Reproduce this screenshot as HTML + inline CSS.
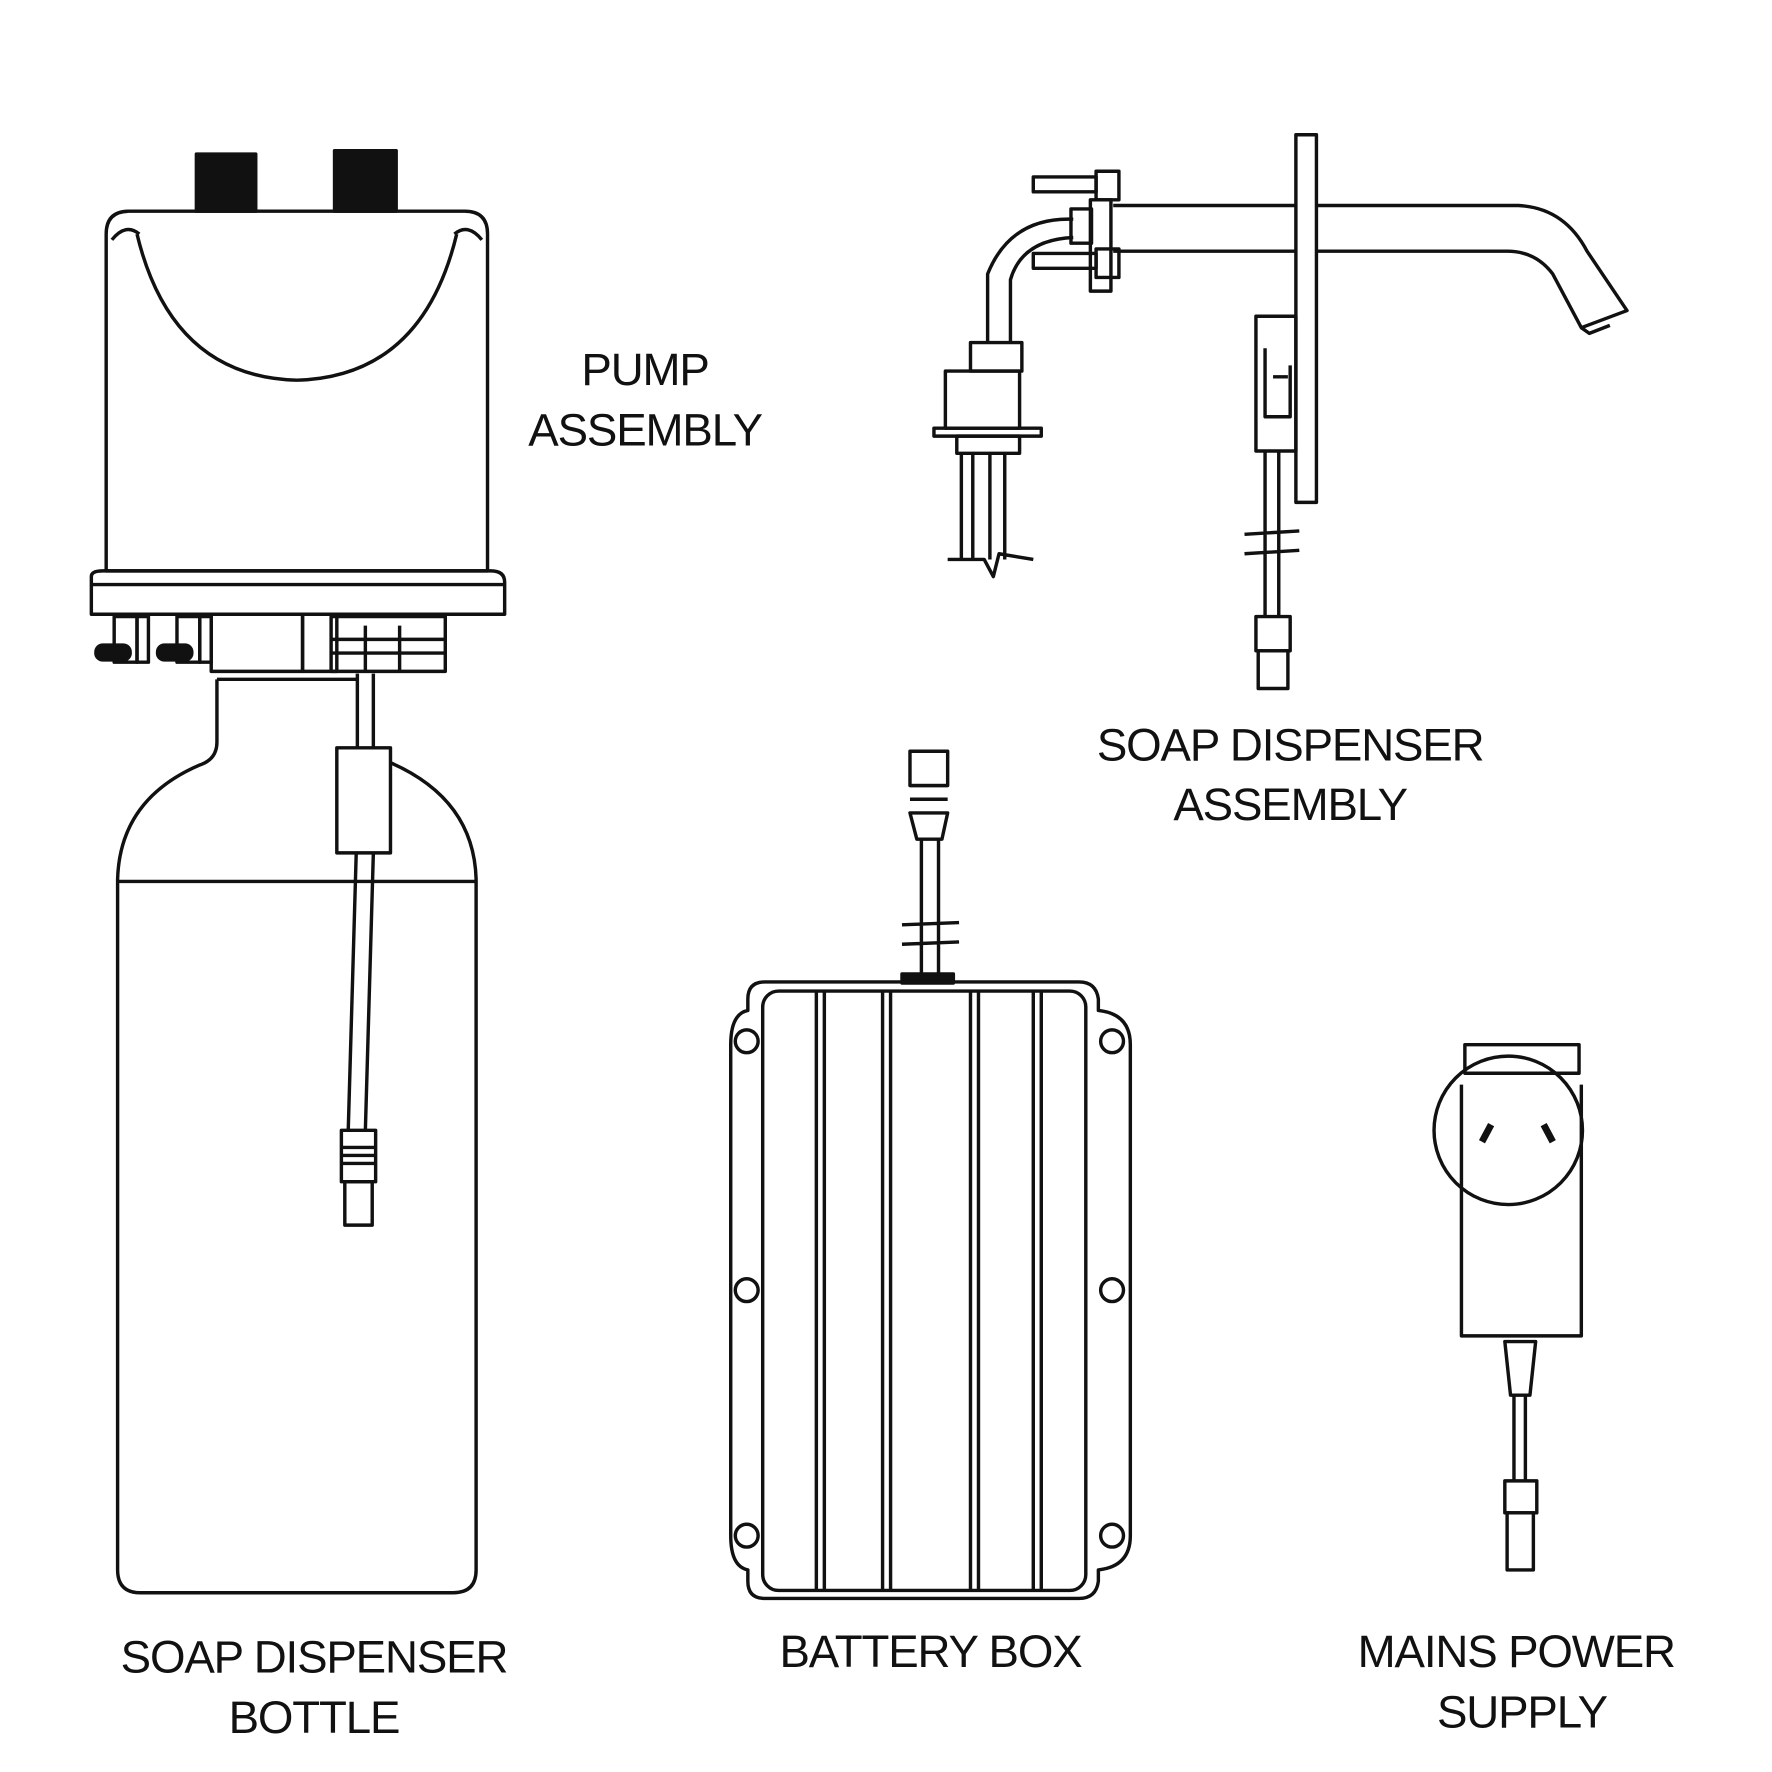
<!DOCTYPE html>
<html><head><style>html,body{margin:0;padding:0;background:#fff}svg{display:block}</style></head>
<body>
<svg width="1772" height="1772" viewBox="0 0 1552 1552" xmlns="http://www.w3.org/2000/svg">
<g fill="none" stroke="#111" stroke-width="3" stroke-linejoin="round">
<!-- PUMP -->
<rect x="172" y="135" width="52" height="50" fill="#111"/>
<rect x="293" y="132" width="54" height="53" fill="#111"/>
<path d="M93 205 Q93 185 113 185 L407 185 Q427 185 427 205 L427 500 L93 500 Z"/>
<path d="M120 205 Q150 330 260 333 Q370 330 400 205"/>
<path d="M98 210 Q110 195 122 205 M422 210 Q410 195 398 205"/>
<path d="M80 505 Q80 500 90 500 L430 500 Q442 500 442 510 L442 538 L80 538 Z"/>
<path d="M80 512 L442 512"/>
<rect x="185" y="538" width="80" height="50"/>
<rect x="265" y="538" width="30" height="50"/>
<rect x="290" y="540" width="100" height="48"/>
<path d="M290 560 L390 560 M290 572 L390 572 M320 548 L320 588 M350 548 L350 588"/>
<rect x="100" y="540" width="20" height="40"/><rect x="120" y="540" width="10" height="40"/>
<rect x="155" y="540" width="20" height="40"/><rect x="175" y="540" width="10" height="40"/>
<rect x="84" y="565" width="30" height="13" rx="6" fill="#111"/>
<rect x="138" y="565" width="30" height="13" rx="6" fill="#111"/>
<!-- BOTTLE -->
<path d="M190 595 L312 595"/>
<path d="M190 595 L190 650 Q190 665 175 670 Q105 700 103 770 L103 1375 Q103 1395 123 1395 L397 1395 Q417 1395 417 1375 L417 770 Q415 700 342 668"/>
<path d="M103 772 L417 772"/>
<path d="M313 590 L313 655 M327 590 L327 655"/>
<rect x="295" y="655" width="47" height="92"/>
<path d="M312 747 L305 990 M327 747 L320 990"/>
<rect x="299" y="990" width="30" height="45"/>
<path d="M299 1005 L329 1005 M299 1012 L329 1012 M299 1019 L329 1019"/>
<rect x="302" y="1035" width="24" height="38"/>
<!-- FAUCET -->
<rect x="1135" y="118" width="18" height="322"/>
<path d="M975 180 L1135 180 M975 220 L1135 220 M1153 180 L1330 180 Q1370 182 1390 220 L1425 272 L1385 287 L1360 240 Q1345 220 1320 220 L1153 220"/>
<path d="M1385 287 L1392 292 L1410 285"/>
<rect x="955" y="175" width="18" height="80"/>
<rect x="905" y="155" width="55" height="13"/><rect x="960" y="150" width="20" height="25"/>
<rect x="905" y="222" width="55" height="13"/><rect x="960" y="218" width="20" height="25"/>
<rect x="938" y="183" width="18" height="30"/>
<path d="M940 192 Q885 190 865 240 L865 300 M940 208 Q895 210 885 245 L885 300"/>
<rect x="850" y="300" width="45" height="25"/>
<rect x="828" y="325" width="65" height="50"/>
<path d="M818 375 L912 375 L912 382 L818 382 Z"/>
<rect x="838" y="382" width="55" height="15"/>
<path d="M842 397 L842 490 M852 397 L852 490 M867 397 L867 490 M880 397 L880 490 M830 490 L862 490 L870 505 L875 485 L905 490"/>
<rect x="1100" y="277" width="35" height="118"/>
<path d="M1108 305 L1108 365 L1130 365 L1130 320 M1115 330 L1128 330"/>
<path d="M1108 395 L1108 540 M1120 395 L1120 540 M1090 468 L1138 465 M1090 485 L1138 482"/>
<rect x="1100" y="540" width="30" height="30"/><rect x="1102" y="570" width="26" height="33"/>
<!-- BATTERY BOX -->
<rect x="797" y="658" width="33" height="30"/>
<path d="M797 688 L830 688 M797 700 L830 700 M797 712 L830 712 L825 735 L803 735 Z"/>
<path d="M807 735 L807 855 M822 735 L822 855 M790 810 L840 808 M790 827 L840 825"/>
<rect x="790" y="853" width="45" height="8" fill="#111"/>
<path d="M670 860 L945 860 Q960 860 962 875 L962 885 Q990 888 990 915 L990 1345 Q990 1372 962 1375 L962 1385 Q960 1400 945 1400 L670 1400 Q655 1400 655 1385 L655 1375 Q640 1372 640 1345 L640 915 Q640 888 655 885 L655 875 Q655 860 670 860 Z"/>
<rect x="668" y="868" width="283" height="525" rx="14"/>
<path d="M715 868 L715 1393 M722 868 L722 1393 M773 868 L773 1393 M780 868 L780 1393 M850 868 L850 1393 M857 868 L857 1393 M905 868 L905 1393 M912 868 L912 1393"/>
<circle cx="654" cy="912" r="10"/><circle cx="974" cy="912" r="10"/>
<circle cx="654" cy="1130" r="10"/><circle cx="974" cy="1130" r="10"/>
<circle cx="654" cy="1345" r="10"/><circle cx="974" cy="1345" r="10"/>
<!-- MAINS -->
<rect x="1283" y="915" width="100" height="25"/>
<circle cx="1321" cy="990" r="65"/>
<path d="M1280 950 L1280 1170 L1385 1170 L1385 950"/>
<path d="M1298 1000 L1306 985 M1352 985 L1360 1000" stroke-width="6"/>
<path d="M1318 1175 L1345 1175 L1340 1222 L1323 1222 Z"/>
<path d="M1326 1222 L1326 1297 M1336 1222 L1336 1297"/>
<rect x="1318" y="1297" width="28" height="28"/><rect x="1320" y="1325" width="23" height="50"/>
</g>
<g font-family="Liberation Sans, sans-serif" font-size="40" fill="#111" text-anchor="middle" letter-spacing="-1">
<text x="565" y="337">PUMP</text>
<text x="565" y="390">ASSEMBLY</text>
<text x="1130" y="666">SOAP DISPENSER</text>
<text x="1130" y="718">ASSEMBLY</text>
<text x="275" y="1465">SOAP DISPENSER</text>
<text x="275" y="1518">BOTTLE</text>
<text x="815" y="1460">BATTERY BOX</text>
<text x="1328" y="1460">MAINS POWER</text>
<text x="1333" y="1513">SUPPLY</text>
</g>
</svg>
</body></html>
